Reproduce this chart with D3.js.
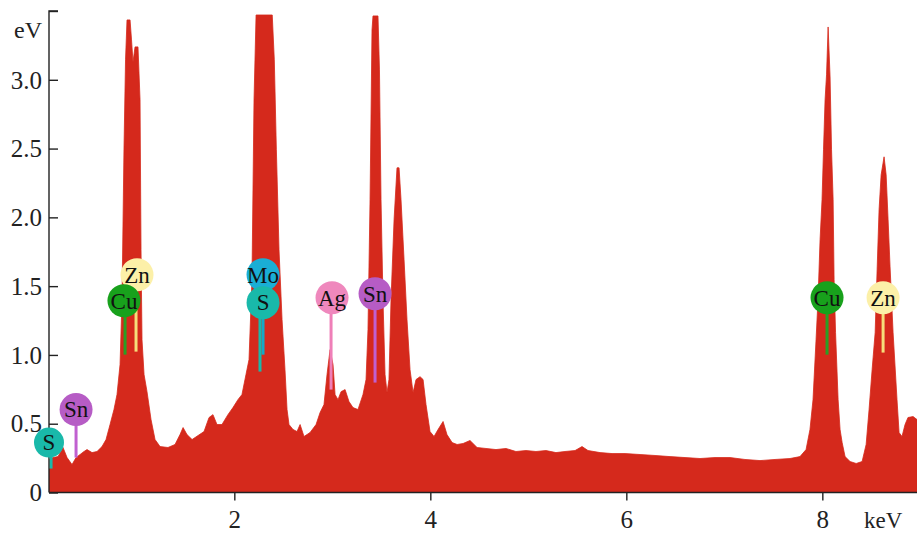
<!DOCTYPE html>
<html>
<head>
<meta charset="utf-8">
<script src="https://cdn.jsdelivr.net/npm/d3@7"></script>
<style>
  html, body { margin: 0; padding: 0; background: #fff; }
  svg, svg text { font-family: "Liberation Serif", "DejaVu Serif", serif; }
</style>
</head>
<body>
<div id="chart"></div>
<script>
// spectrum (keV, intensity)
const energy = [
  0.109, 0.150, 0.201, 0.252, 0.293, 0.344, 0.385, 0.426, 0.466, 0.497,
  0.548, 0.599, 0.650, 0.691, 0.732, 0.772, 0.803, 0.834, 0.854, 0.874,
  0.890, 0.905, 0.936, 0.951, 0.966, 0.987, 1.017, 1.038, 1.048, 1.058,
  1.079, 1.109, 1.150, 1.191, 1.242, 1.323, 1.395, 1.446, 1.477, 1.517,
  1.569, 1.630, 1.691, 1.742, 1.782, 1.823, 1.874, 1.935, 1.986, 2.037,
  2.078, 2.119, 2.150, 2.180, 2.201, 2.222, 2.387, 2.408, 2.429, 2.456,
  2.487, 2.517, 2.538, 2.558, 2.599, 2.640, 2.671, 2.711, 2.773, 2.834,
  2.875, 2.915, 2.946, 2.977, 3.007, 3.028, 3.058, 3.089, 3.130, 3.170,
  3.211, 3.262, 3.313, 3.344, 3.364, 3.385, 3.405, 3.415, 3.466, 3.481,
  3.497, 3.517, 3.538, 3.558, 3.578, 3.599, 3.630, 3.660, 3.681, 3.701,
  3.732, 3.762, 3.793, 3.824, 3.854, 3.895, 3.926, 3.956, 3.997, 4.038,
  4.079, 4.130, 4.170, 4.222, 4.273, 4.334, 4.405, 4.477, 4.568, 4.670,
  4.772, 4.874, 4.976, 5.078, 5.180, 5.282, 5.374, 5.477, 5.548, 5.609,
  5.732, 5.854, 5.987, 6.140, 6.293, 6.446, 6.599, 6.752, 6.905, 7.058,
  7.211, 7.364, 7.517, 7.670, 7.772, 7.834, 7.874, 7.905, 7.936, 7.956,
  7.977, 7.997, 8.012, 8.028, 8.043, 8.059, 8.079, 8.094, 8.110, 8.120,
  8.135, 8.161, 8.181, 8.202, 8.232, 8.283, 8.345, 8.406, 8.447, 8.477,
  8.508, 8.539, 8.559, 8.579, 8.600, 8.630, 8.651, 8.671, 8.691, 8.722,
  8.762, 8.783, 8.813, 8.844, 8.874, 8.926, 8.966
];
const intensity = [
  0.240, 0.254, 0.261, 0.327, 0.254, 0.203, 0.254, 0.276, 0.298, 0.312,
  0.290, 0.298, 0.334, 0.385, 0.494, 0.603, 0.712, 0.930, 1.402, 2.491,
  3.145, 3.435, 3.435, 3.290, 3.130, 3.239, 3.239, 2.854, 1.765, 1.111,
  0.857, 0.733, 0.530, 0.385, 0.334, 0.327, 0.349, 0.421, 0.472, 0.421,
  0.385, 0.414, 0.443, 0.545, 0.566, 0.494, 0.494, 0.566, 0.617, 0.675,
  0.712, 0.857, 0.966, 1.547, 2.854, 3.471, 3.471, 3.145, 2.491, 1.765,
  1.256, 0.893, 0.603, 0.494, 0.458, 0.443, 0.494, 0.407, 0.436, 0.494,
  0.581, 0.639, 0.857, 1.038, 0.930, 0.712, 0.675, 0.733, 0.748, 0.661,
  0.617, 0.603, 0.712, 0.821, 1.184, 2.128, 3.362, 3.464, 3.464, 3.072,
  2.128, 1.402, 0.857, 0.726, 0.821, 1.402, 1.983, 2.360, 2.360, 2.128,
  1.692, 1.256, 0.893, 0.726, 0.821, 0.842, 0.821, 0.639, 0.443, 0.407,
  0.458, 0.516, 0.421, 0.363, 0.349, 0.356, 0.378, 0.327, 0.320, 0.312,
  0.320, 0.298, 0.305, 0.298, 0.305, 0.290, 0.298, 0.305, 0.334, 0.305,
  0.290, 0.283, 0.283, 0.276, 0.269, 0.261, 0.254, 0.247, 0.254, 0.254,
  0.240, 0.232, 0.240, 0.247, 0.261, 0.312, 0.458, 0.675, 1.111, 1.402,
  1.837, 2.128, 2.491, 2.854, 3.036, 3.384, 3.021, 2.491, 2.128, 1.547,
  1.162, 0.675, 0.458, 0.363, 0.261, 0.225, 0.211, 0.225, 0.349, 0.603,
  0.893, 1.162, 1.619, 2.055, 2.309, 2.440, 2.309, 1.983, 1.641, 1.162,
  0.675, 0.436, 0.407, 0.494, 0.545, 0.552, 0.530
];

const xTicks = [2, 4, 6, 8];
const yTicks = [0, 0.5, 1.0, 1.5, 2.0, 2.5, 3.0];

// element markers: label, circle centre (keV, level), stem foot (keV, level)
const markerLabels = ['S', 'Sn', 'Zn', 'Cu', 'Mo', 'S', 'Ag', 'Sn', 'Cu', 'Zn'];
const markerEnergy = [0.109, 0.385, 1.007, 0.874, 2.293, 2.293, 2.997, 3.436, 8.048, 8.620];
const markerLevel  = [0.363, 0.603, 1.583, 1.394, 1.583, 1.380, 1.416, 1.445, 1.416, 1.416];
const stemEnergy   = [0.130, 0.385, 0.997, 0.885, 2.293, 2.262, 2.987, 3.436, 8.048, 8.620];
const stemLevel    = [0.174, 0.254, 1.024, 1.002, 1.002, 0.879, 0.748, 0.799, 1.002, 1.017];

const elementColor = {
  S: '#19b9aa', Sn: '#b65cc5', Zn: '#fcf0a8', Cu: '#18a11c',
  Mo: '#1aaed5', Ag: '#ef88bd'
};
const stemColor = {
  S: '#19b9aa', Sn: '#c060d0', Zn: '#f6de7a', Cu: '#2a9e24',
  Mo: '#17a8c6', Ag: '#ef7fb8'
};

const serif = '"Liberation Serif", "DejaVu Serif", serif';
const width = 917, height = 533;
const margin = { top: 11, right: 0, bottom: 40, left: 49 };

const svg = d3.select('#chart').append('svg')
  .attr('width', width)
  .attr('height', height);

const x = d3.scaleLinear()
  .domain([0.109, 8.966])
  .range([margin.left, width - margin.right]);

const y = d3.scaleLinear()
  .domain([0, 3.5])
  .range([height - margin.bottom - 0.5, margin.top]);

const points = energy.map((e, i) => [e, intensity[i]]);

svg.append('clipPath').attr('id', 'plot')
  .append('rect')
  .attr('x', margin.left).attr('y', margin.top)
  .attr('width', width - margin.left - margin.right)
  .attr('height', y(0) - margin.top);

const area = d3.area()
  .x(d => x(d[0]))
  .y0(y(0))
  .y1(d => y(d[1]))
  .curve(d3.curveLinear);

svg.append('path')
  .datum(points)
  .attr('clip-path', 'url(#plot)')
  .attr('d', area)
  .attr('fill', '#d5291c')
  .attr('stroke', '#d5291c')
  .attr('stroke-width', 0.8)
  .attr('stroke-linejoin', 'round');

// Y axis (ticks inward)
const yAxis = svg.append('g')
  .attr('transform', `translate(${margin.left},0)`)
  .call(d3.axisRight(y).tickValues(yTicks.concat([3.5])).tickSize(9));
yAxis.attr('font-family', null);
yAxis.select('.domain').attr('stroke', '#222').attr('stroke-width', 1.4)
  .attr('d', `M9,${y(3.5)}H0V${y(0)}`);
yAxis.selectAll('.tick line').attr('stroke', '#222').attr('stroke-width', 1.4);
yAxis.selectAll('.tick text')
  .attr('x', -7)
  .attr('text-anchor', 'end')
  .attr('dy', '0.33em')
  .attr('font-size', 25)
  .style('font-family', serif)
  .attr('fill', '#222')
  .text(d => d === 3.5 ? '' : (d === 0 ? '0' : d3.format('.1f')(d)));

svg.append('text')
  .attr('x', 42).attr('y', 38)
  .attr('text-anchor', 'end')
  .attr('font-size', 24)
  .style('font-family', serif)
  .attr('fill', '#222')
  .text('eV');

// X axis
const xAxis = svg.append('g')
  .attr('transform', `translate(0,${y(0)})`)
  .call(d3.axisBottom(x).tickValues(xTicks).tickSize(8).tickFormat(d3.format('d')));
xAxis.attr('font-family', null);
xAxis.select('.domain').attr('stroke', '#222').attr('stroke-width', 1.4)
  .attr('d', `M${margin.left},0H${width}`);
xAxis.selectAll('.tick line').attr('stroke', '#222').attr('stroke-width', 1.4);
xAxis.selectAll('.tick text')
  .attr('y', 35)
  .attr('dy', null)
  .attr('font-size', 25)
  .style('font-family', serif)
  .attr('fill', '#222');

svg.append('text')
  .attr('x', 864).attr('y', 528)
  .attr('font-size', 23)
  .style('font-family', serif)
  .attr('fill', '#222')
  .text('keV');

// element markers
const markers = markerLabels.map((label, i) => ({
  label,
  cx: x(markerEnergy[i]), cy: y(markerLevel[i]),
  sx: x(stemEnergy[i]), sy: y(stemLevel[i])
}));

const mg = svg.append('g');
markers.forEach(m => {
  mg.append('line')
    .attr('x1', m.sx).attr('x2', m.sx)
    .attr('y1', m.cy + 10).attr('y2', m.sy)
    .attr('stroke', stemColor[m.label])
    .attr('stroke-width', 3);
});
markers.forEach(m => {
  const r = m.label === 'S' && m.cx < 60 ? 15 : 16.5;
  mg.append('circle')
    .attr('cx', m.cx).attr('cy', m.cy)
    .attr('r', r)
    .attr('fill', elementColor[m.label]);
  mg.append('text')
    .attr('x', m.cx).attr('y', m.cy)
    .attr('dy', '0.34em')
    .attr('text-anchor', 'middle')
    .attr('font-size', 23)
    .style('font-family', serif)
    .attr('fill', '#111')
    .text(m.label);
});
</script>
</body>
</html>
